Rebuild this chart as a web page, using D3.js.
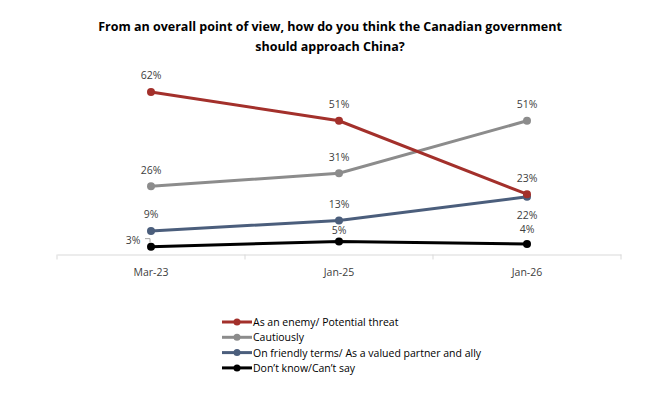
<!DOCTYPE html>
<html>
<head>
<meta charset="utf-8">
<script src="https://cdn.jsdelivr.net/npm/d3@7"></script>
<style>
	body { margin: 0; background: #fff; }
	text { font-family: "Open Sans", "Liberation Sans", sans-serif; }
</style>
</head>
<body>
<div id="chart"></div>
<script>
// data
var periods = ["Mar-23", "Jan-25", "Jan-26"]
var seriesNames = ["As an enemy/ Potential threat", "Cautiously", "On friendly terms/ As a valued partner and ally", "Don\u2019t know/Can\u2019t say"]
var enemyValues = [62, 51, 23]
var cautiousValues = [26, 31, 51]
var friendlyValues = [9, 13, 22]
var dontKnowValues = [3, 5, 4]
var seriesColours = ["#a3302b", "#8c8c8c", "#4b5e7c", "#000000"]

// label placement: "above", "close" (just above), "below" or "left"
var labelPos = [
	["above", "above", "above"],
	["above", "above", "above"],
	["above", "above", "below"],
	["left", "close", "close"]
]

var allValues = [enemyValues, cautiousValues, friendlyValues, dontKnowValues]

var width = 660, height = 397;
var margin = {left: 57, right: 39, top: 71, bottom: 142.5};

var svg = d3.select("#chart").append("svg")
	.attr("width", width)
	.attr("height", height);

// title
var title = svg.append("text")
	.attr("x", 330)
	.attr("text-anchor", "middle")
	.style("font-size", "12.5px")
	.style("font-weight", "bold")
	.style("fill", "#000");
title.append("tspan").attr("x", 330).attr("y", 31).text("From an overall point of view, how do you think the Canadian government");
title.append("tspan").attr("x", 330).attr("y", 51).text("should approach China?");

var x = d3.scaleBand()
	.domain(periods)
	.range([margin.left, width - margin.right]);

var y = d3.scaleLinear()
	.domain([0, 70])
	.range([height - margin.bottom, margin.top]);

// x axis
var xAxis = svg.append("g")
	.attr("transform", "translate(0," + (height - margin.bottom) + ")")
	.call(d3.axisBottom(x).tickSize(0).tickPadding(14));
xAxis.select(".domain").attr("stroke", "#d9d9d9").attr("stroke-width", 1);
xAxis.selectAll("text")
	.style("font-size", "10.5px")
	.style("fill", "#404040")
	.style("font-family", "\"Open Sans\", sans-serif");

// tick separators between categories
var edges = [margin.left].concat(periods.map(function(p){ return x(p) + x.bandwidth(); }));
svg.append("g").selectAll("line")
	.data(edges)
	.enter().append("line")
	.attr("x1", function(d){ return d; })
	.attr("x2", function(d){ return d; })
	.attr("y1", height - margin.bottom)
	.attr("y2", height - margin.bottom + 5)
	.attr("stroke", "#d9d9d9");

var line = d3.line()
	.x(function(d, i){ return x(periods[i]) + x.bandwidth() / 2; })
	.y(function(d){ return y(d); });

// draw back to front so red sits above gray
var order = [1, 3, 2, 0];
order.forEach(function(s){
	var g = svg.append("g");
	g.append("path")
		.datum(allValues[s])
		.attr("d", line)
		.attr("fill", "none")
		.attr("stroke", seriesColours[s])
		.attr("stroke-width", 3);
	g.selectAll("circle")
		.data(allValues[s])
		.enter().append("circle")
		.attr("cx", function(d, i){ return x(periods[i]) + x.bandwidth() / 2; })
		.attr("cy", function(d){ return y(d); })
		.attr("r", 4)
		.attr("fill", seriesColours[s]);
});

// data labels
allValues.forEach(function(vals, s){
	vals.forEach(function(v, i){
		var cx = x(periods[i]) + x.bandwidth() / 2;
		var cy = y(v);
		var pos = labelPos[s][i];
		var lx = cx, ly = cy - 12.5;
		if (pos == "close") { ly = cy - (i == 1 ? 7 : 11); }
		if (pos == "below") { ly = cy + 22; }
		if (pos == "left") { lx = cx - 18; ly = cy - 3; }
		svg.append("text")
			.attr("x", lx)
			.attr("y", ly)
			.attr("text-anchor", "middle")
			.style("font-size", "10.5px")
			.style("fill", "#404040")
			.text(v + "%");
		if (pos == "left") {
			svg.append("path")
				.attr("d", "M" + (cx - 6) + "," + (cy - 8) + "H" + (cx - 1) + "V" + (cy - 4))
				.attr("fill", "none")
				.attr("stroke", "#a6a6a6")
				.attr("stroke-width", 1);
		}
	});
});

// legend
var legend = svg.append("g").attr("transform", "translate(222,322)");
var rows = legend.selectAll("g")
	.data(seriesNames)
	.enter().append("g")
	.attr("transform", function(d, i){ return "translate(0," + (i * 15.3) + ")"; });
rows.append("line")
	.attr("x1", 0).attr("x2", 30)
	.attr("stroke", function(d, i){ return seriesColours[i]; })
	.attr("stroke-width", 3);
rows.append("circle")
	.attr("cx", 15)
	.attr("r", 3.5)
	.attr("fill", function(d, i){ return seriesColours[i]; });
rows.append("text")
	.attr("x", 31)
	.attr("y", 4)
	.style("font-size", "10.5px")
	.style("fill", "#000")
	.text(function(d){ return d; });
</script>
</body>
</html>
